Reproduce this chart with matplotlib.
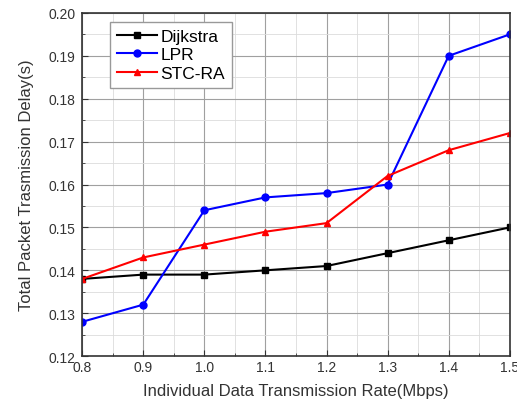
import matplotlib
matplotlib.use("Agg")
import matplotlib.pyplot as plt
from matplotlib.ticker import MultipleLocator

plt.rcParams["font.family"] = ["Liberation Sans", "DejaVu Sans"]

rate = [0.8, 0.9, 1.0, 1.1, 1.2, 1.3, 1.4, 1.5]
dijkstra = [0.138, 0.139, 0.139, 0.140, 0.141, 0.144, 0.147, 0.150]
lpr = [0.128, 0.132, 0.154, 0.157, 0.158, 0.160, 0.190, 0.195]
stc_ra = [0.138, 0.143, 0.146, 0.149, 0.151, 0.162, 0.168, 0.172]

fig = plt.figure(figsize=(5.17, 4.10), dpi=100)
ax = fig.add_axes([0.159, 0.129, 0.827, 0.837])

ax.plot(rate, dijkstra, color="black", marker="s", markersize=5, lw=1.5, label="Dijkstra")
ax.plot(rate, lpr, color="blue", marker="o", markersize=5, lw=1.5, label="LPR")
ax.plot(rate, stc_ra, color="red", marker="^", markersize=5, lw=1.5, label="STC-RA")

ax.set_xlim(0.8, 1.5)
ax.set_ylim(0.12, 0.20)
ax.xaxis.set_major_locator(MultipleLocator(0.1))
ax.xaxis.set_minor_locator(MultipleLocator(0.05))
ax.yaxis.set_major_locator(MultipleLocator(0.01))
ax.yaxis.set_minor_locator(MultipleLocator(0.005))
ax.set_xticklabels([f"{v:.1f}" for v in ax.get_xticks()])
ax.set_yticklabels([f"{v:.2f}" for v in ax.get_yticks()])

ax.grid(which="major", color="#a0a0a0", lw=0.8)
ax.grid(which="minor", color="#dcdcdc", lw=0.6)
ax.set_axisbelow(True)
ax.tick_params(which="both", direction="in", top=False, right=False, labelsize=10, colors="#333333")
ax.tick_params(which="major", length=4, pad=5)
ax.tick_params(axis="x", which="major", pad=3)
ax.tick_params(which="minor", length=2)
for s in ax.spines.values():
    s.set_linewidth(1.2)
    s.set_color("#333333")

ax.set_xlabel("Individual Data Transmission Rate(Mbps)", fontsize=12, color="#333333", labelpad=6)
ax.set_ylabel("Total Packet Trasmission Delay(s)", fontsize=12, color="#333333", labelpad=10)

leg = ax.legend(loc="upper left", bbox_to_anchor=(0.065, 0.975), borderaxespad=0, fontsize=12.5,
                handlelength=2.3, fancybox=False, framealpha=1, handletextpad=0.2, labelspacing=0.2)
leg.get_frame().set_edgecolor("#999999")

fig.savefig("out.png", dpi=100)
